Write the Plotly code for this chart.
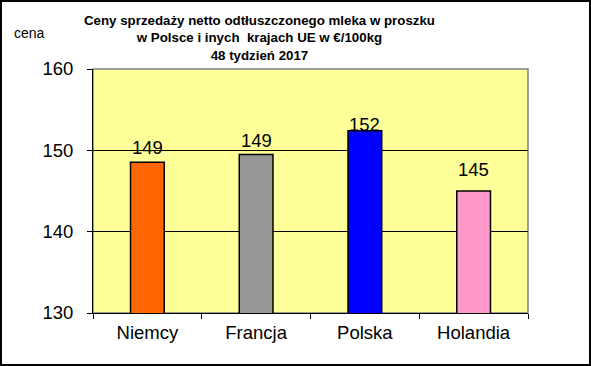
import plotly.graph_objects as go

categories = ["Niemcy", "Francja", "Polska", "Holandia"]
values = [148.55, 149.5, 152.4, 145.0]
labels = ["149", "149", "152", "145"]
colors = ["#FF6600", "#969696", "#0000FF", "#FF99CC"]
label_gap = [5, 4, -3, 12]

W, H = 591, 366
L, R, T, B = 93, 63, 69, 53
pw, ph = W - L - R, H - T - B

fig = go.Figure()
fig.add_trace(go.Bar(
    x=categories, y=values, width=0.31,
    marker=dict(color=colors, line=dict(color="black", width=1.5)),
    hoverinfo="skip",
))

font = "Liberation Sans, Arial, sans-serif"
ann = []
for c, v, t, g in zip(categories, values, labels, label_gap):
    ann.append(dict(x=c, y=v, text=t, showarrow=False, yanchor="bottom",
                    yshift=g - 3, font=dict(size=18.5, color="black", family=font)))
ann.append(dict(xref="paper", yref="paper", x=(259 - L) / pw, y=(H - 38 - B) / ph,
                text="<b>Ceny sprzedaży netto odtłuszczonego mleka w proszku<br>w Polsce i inych  krajach UE w €/100kg<br>48 tydzień 2017</b>",
                showarrow=False, xanchor="center", yanchor="middle",
                font=dict(size=13.3, color="black", family=font)))
ann.append(dict(xref="paper", yref="paper", x=(29 - L) / pw, y=(H - 33 - B) / ph,
                text="cena", showarrow=False, xanchor="center", yanchor="middle",
                font=dict(size=14, color="black", family=font)))

shapes = [
    dict(type="rect", xref="paper", yref="paper", x0=0, x1=1, y0=0, y1=1,
         line=dict(color="#808080", width=1.5), layer="below"),
    dict(type="rect", xref="paper", yref="paper",
         x0=(1 - L) / pw, x1=(W - 1 - L) / pw, y0=(1 - B) / ph, y1=(H - 1 - B) / ph,
         line=dict(color="black", width=2)),
]

fig.update_layout(
    width=W, height=H,
    margin=dict(l=L, r=R, t=T, b=B),
    paper_bgcolor="white", plot_bgcolor="#FFFF99",
    showlegend=False,
    annotations=ann, shapes=shapes,
    xaxis=dict(type="category", tickson="boundaries", ticks="outside", ticklen=5,
               tickcolor="black", showline=True, linecolor="black", linewidth=1,
               showgrid=False, tickfont=dict(size=18.5, color="black", family=font),
               ticklabelstandoff=3, range=[-0.5, 3.5]),
    yaxis=dict(range=[130, 160], dtick=10, ticks="outside", ticklen=5,
               tickcolor="black", showline=True, linecolor="black", linewidth=1,
               showgrid=True, gridcolor="black", gridwidth=1, zeroline=False,
               ticklabelstandoff=10,
               tickfont=dict(size=18.5, color="black", family=font)),
)

fig.write_html("out.html", config={"displayModeBar": False},
               post_script="document.body.style.margin='0';document.body.style.overflow='hidden';")
